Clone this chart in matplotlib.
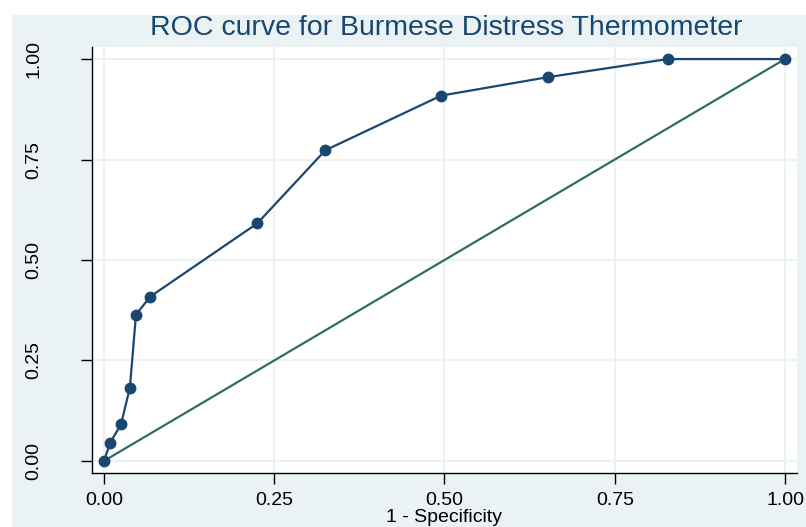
import numpy as np
import matplotlib.pyplot as plt
from matplotlib.patches import Rectangle

plt.rcParams['font.family'] = ['Liberation Sans', 'DejaVu Sans']

# ROC points
one_minus_spec = [0.0, 0.009, 0.025, 0.038, 0.047, 0.068, 0.225, 0.325, 0.495, 0.652, 0.828, 1.0]
sensitivity = [0.0, 0.045, 0.091, 0.182, 0.364, 0.409, 0.591, 0.773, 0.909, 0.955, 1.0, 1.0]
ticks = [0.0, 0.25, 0.5, 0.75, 1.0]
tick_labels = ['0.00', '0.25', '0.50', '0.75', '1.00']

navy = '#1a476f'
green = '#2c6f62'
bg = '#eaf2f3'

fig = plt.figure(figsize=(8.06, 5.27), dpi=100)
fig.patch.set_facecolor('white')
# stata-like background panel, picture is cropped at top/left
fig.patches.append(Rectangle((12/806, 0), 1, (527-15)/527, transform=fig.transFigure,
                             facecolor=bg, edgecolor='none', zorder=-10))

ax = fig.add_axes([92/806, (527-473)/527, (797-92)/806, (473-47)/527])
ax.set_facecolor('white')

ax.plot(one_minus_spec, sensitivity, color=navy, lw=1.6, marker='o', ms=7.5, zorder=3)
ax.plot([0, 1], [0, 1], color=green, lw=1.6, zorder=2)

ax.set_xlim(-0.0176, 1.0176)
ax.set_ylim(-0.030, 1.030)
ax.set_xticks(ticks)
ax.set_xticklabels(tick_labels, fontsize=14)
ax.set_yticks(ticks)
ax.set_yticklabels(tick_labels, fontsize=14, rotation=90, va='center')
ax.grid(True, color=bg, lw=1.5, zorder=0)
ax.set_axisbelow(True)
ax.tick_params(direction='out', length=8, width=1, color='black')
ax.tick_params(axis='x', pad=6)
ax.tick_params(axis='y', pad=28)

for s in ['top', 'right']:
    ax.spines[s].set_visible(False)
for s in ['left', 'bottom']:
    ax.spines[s].set_linewidth(1)
    ax.spines[s].set_color('black')

ax.set_xlabel('1 - Specificity', fontsize=14, labelpad=0)
fig.text(446/806, 1 - 28/527, 'ROC curve for Burmese Distress Thermometer',
         ha='center', va='center', fontsize=20.5, color=navy)

fig.savefig('out.png', dpi=100)
